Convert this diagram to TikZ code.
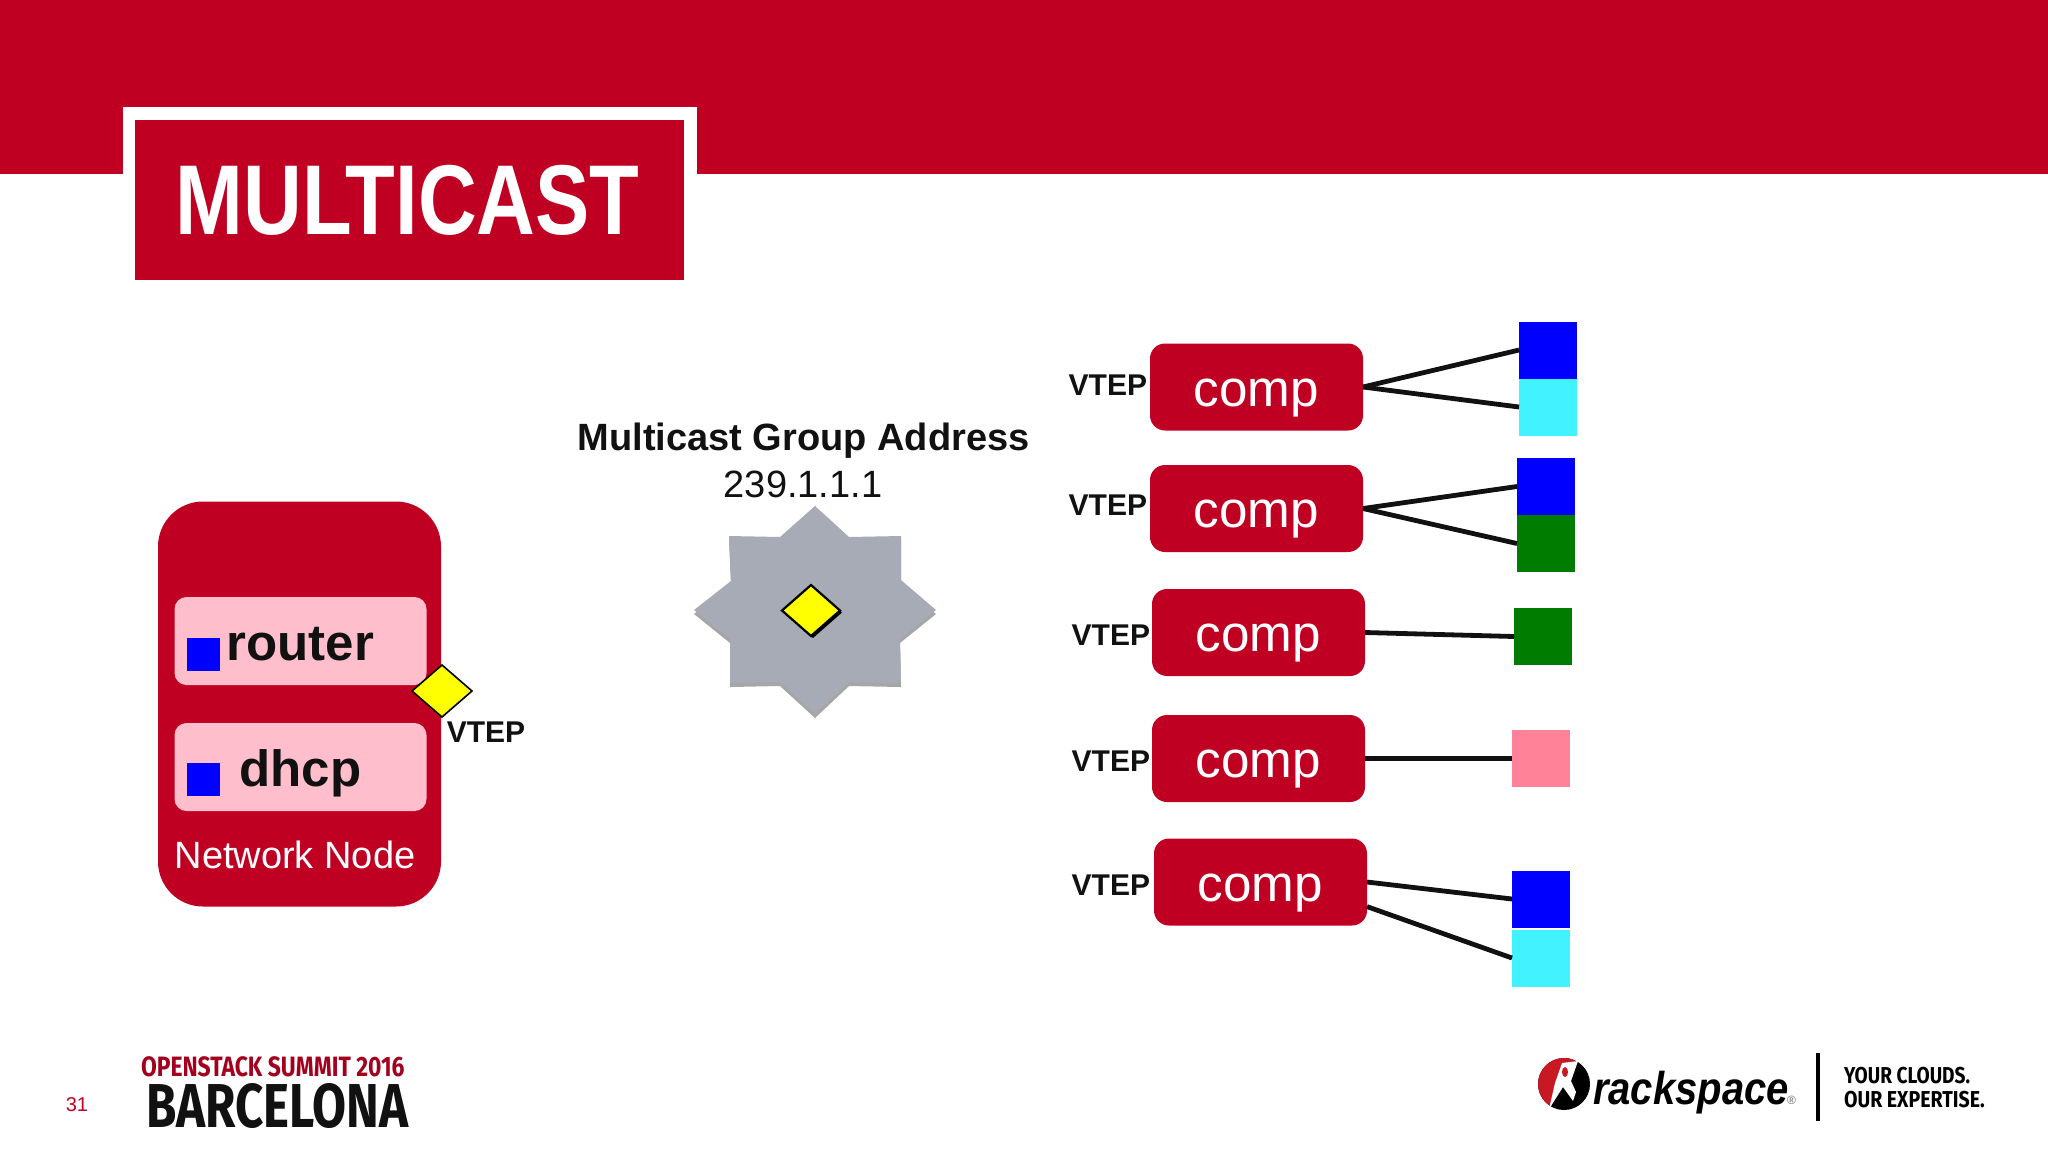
\documentclass[tikz,border=0pt]{standalone}
\usepackage{fontspec}
\setmainfont{Liberation Sans}
\newfontfamily\brandfont{Fira Sans}
\usepackage{xcolor}
\usetikzlibrary{shapes.geometric, positioning, shadows}
\definecolor{RackRed}{RGB}{192, 0, 35}
\definecolor{LogoRed}{RGB}{200, 25, 35}
\definecolor{SoftPink}{RGB}{255, 190, 203}
\definecolor{VmPink}{RGB}{255, 130, 152}
\definecolor{VmBlue}{RGB}{0, 0, 255}
\definecolor{VmCyan}{RGB}{66, 242, 255}
\definecolor{VmGreen}{RGB}{0, 125, 0}
\definecolor{StarGray}{RGB}{166, 171, 181}
\definecolor{InkBlack}{RGB}{17, 17, 17}
\definecolor{VtepYellow}{RGB}{255, 255, 0}
\newcommand{\fsz}[1]{\fontsize{#1}{#1}\selectfont}

\begin{document}
\begin{tikzpicture}[
    x=0.5pt, y=-0.5pt,
    plainbox/.style={inner sep=0pt, outer sep=0pt},
    comp/.style={plainbox, fill=RackRed, rounded corners=7.5pt, minimum width=106.5pt, minimum height=43.5pt, text=white, font=\fsz{25.6pt}, text height=24pt, text depth=5pt},
    service/.style={plainbox, fill=SoftPink, rounded corners=6pt, minimum width=126pt, minimum height=44pt, text=InkBlack, font=\fsz{25.5pt}\bfseries, text height=24pt, text depth=5pt},
    port/.style={plainbox, fill=VmBlue, minimum size=16.5pt},
    vm/.style={plainbox, minimum width=29pt, minimum height=28.5pt},
    vtep/.style={plainbox, text=InkBlack, font=\fsz{15pt}\bfseries},
    gem/.style={diamond, plainbox, draw=black, fill=VtepYellow, aspect=1.15},
    link/.style={draw=InkBlack, line width=2.4pt}
]
\useasboundingbox (0,0) rectangle (2048,1152);
\node[plainbox, fill=RackRed, minimum width=1024pt, minimum height=87pt] (banner) at (1024,87) {};
\node[plainbox, fill=white, minimum width=287pt, minimum height=87pt] (titleframe) at (409.5,193.5) {};
\node[plainbox, fill=RackRed, minimum width=274.5pt, minimum height=80pt, text=white, font=\fsz{49.6pt}\bfseries] (title) at (409.5,200) {\hspace{-2pt}\scalebox{.82}[1]{MULTICAST}};

\node[plainbox, fill=RackRed, rounded corners=22.5pt, minimum width=141.5pt, minimum height=202.5pt] (netnode) at (299.5,704) {};
\node[service] (router) at (300.5,641) {router};
\node[service] (dhcp) at (300.5,767) {dhcp};
\node[port] (routerport) at (203.5,654) {};
\node[port] (dhcpport) at (203.5,779.5) {};
\node[plainbox, anchor=base, text=white, font=\fsz{19pt}] (netlabel) at (295,868) {Network Node};
\node[gem, line width=.8pt, minimum width=30pt, minimum height=26pt] (netvtep) at (442,691) {};
\node[vtep, below=2.5pt of netvtep, xshift=22pt] (netvteplabel) {VTEP};

\node[plainbox, anchor=base, text=InkBlack, font=\fsz{19pt}\bfseries] (grouplabel) at (803.5,450) {Multicast Group Address};
\node[plainbox, anchor=base, text=InkBlack, font=\fsz{19pt}] (groupaddr) at (803,497) {239.1.1.1};
\fill[StarGray, drop shadow={shadow xshift=0pt, shadow yshift=-2pt, opacity=.7, fill=black!50}] (815,506) -- (849,537) -- (901,536) -- (901,580) -- (936,610) -- (900,639) -- (901,683) -- (849,682) -- (815,714) -- (780,682) -- (730,683) -- (730,639) -- (694,610) -- (731,581) -- (729,536) -- (780,537) -- cycle;
\node[gem, line width=1.1pt, minimum width=29pt, minimum height=25.5pt, drop shadow={shadow xshift=1pt, shadow yshift=-1pt, opacity=1, fill=black}] (groupvtep) at (811,610.5) {};

\node[comp] (comp1) at (1256.5,387) {comp};
\node[comp] (comp2) at (1256.5,508.5) {comp};
\node[comp] (comp3) at (1258.5,632.5) {comp};
\node[comp] (comp4) at (1258.5,758.5) {comp};
\node[comp] (comp5) at (1260.5,882) {comp};
\node[vtep, left=1.5pt of comp1, yshift=1pt] (vtep1) {VTEP};
\node[vtep, left=1.5pt of comp2, yshift=1.5pt] (vtep2) {VTEP};
\node[vtep, left=1pt of comp3, yshift=-1.5pt] (vtep3) {VTEP};
\node[vtep, left=1pt of comp4, yshift=-1.5pt] (vtep4) {VTEP};
\node[vtep, left=2pt of comp5, yshift=-1.5pt] (vtep5) {VTEP};

\node[vm, fill=VmBlue] (vm1a) at (1548,350) {};
\node[vm, fill=VmCyan, below=0pt of vm1a] (vm1b) {};
\node[vm, fill=VmBlue] (vm2a) at (1546,486.5) {};
\node[vm, fill=VmGreen, below=0pt of vm2a] (vm2b) {};
\node[vm, fill=VmGreen] (vm3) at (1543,636.5) {};
\node[vm, fill=VmPink] (vm4) at (1541,758.5) {};
\node[vm, fill=VmBlue] (vm5a) at (1541,899) {};
\node[vm, fill=VmCyan, below=1pt of vm5a] (vm5b) {};

\draw[link] (comp1.east) -- (vm1a.west);
\draw[link] (comp1.east) -- (vm1b.west);
\draw[link] (comp2.east) -- (vm2a.west);
\draw[link] (comp2.east) -- (vm2b.west);
\draw[link] (comp3.east) -- (vm3.west);
\draw[link] (comp4.east) -- (vm4.west);
\draw[link] (comp5.east) -- (vm5a.west);
\draw[link] (comp5.-13) -- (vm5b.west);

\node[plainbox, anchor=base, text=RackRed, font=\fsz{10pt}] (pagenum) at (77,1111) {31};
\node[plainbox, anchor=base west, text=RackRed!85!black, font=\brandfont\fsz{14pt}\bfseries] (summit) at (141,1076) {\scalebox{.817}[1]{OPENSTACK SUMMIT 2016}};
\node[plainbox, anchor=base west, text=InkBlack, font=\brandfont\fsz{31pt}\bfseries] (city) at (146,1127) {\scalebox{.795}[1]{BARCELONA}};

\begin{scope}
\clip (1564,1084) circle (26);
\fill[black] (1530,1050) rectangle (1595,1115);
\fill[LogoRed] (1530,1050) -- (1570,1050) -- (1575,1062) -- (1556,1080) -- (1550,1115) -- (1530,1115) -- cycle;
\end{scope}
\fill[white] (1578,1061) -- (1562,1063) -- (1555,1083) -- (1549,1109) -- (1556,1098) -- (1563,1087) -- (1573,1101) -- (1576,1092) -- (1571,1081) -- cycle;
\fill[LogoRed] (1565,1072) ellipse (3 and 5);
\node[plainbox, anchor=base west, text=black, font=\fsz{23pt}\bfseries\itshape] (rackname) at (1593,1104) {\scalebox{.87}[1]{rackspace}};
\node[plainbox, anchor=base west, text=black!60, font=\fsz{6pt}] (rackmark) at (1787,1104) {\textregistered};
\node[plainbox, fill=black, minimum width=1.75pt, minimum height=34pt] (divider) at (1818,1087) {};
\node[plainbox, anchor=base west, text=black, font=\brandfont\fsz{11.5pt}\bfseries] (tagone) at (1844,1083) {\scalebox{.83}[1]{YOUR CLOUDS.}};
\node[plainbox, anchor=base west, text=black, font=\brandfont\fsz{11.5pt}\bfseries] (tagtwo) at (1844,1107) {\scalebox{.85}[1]{OUR EXPERTISE.}};
\end{tikzpicture}
\end{document}
